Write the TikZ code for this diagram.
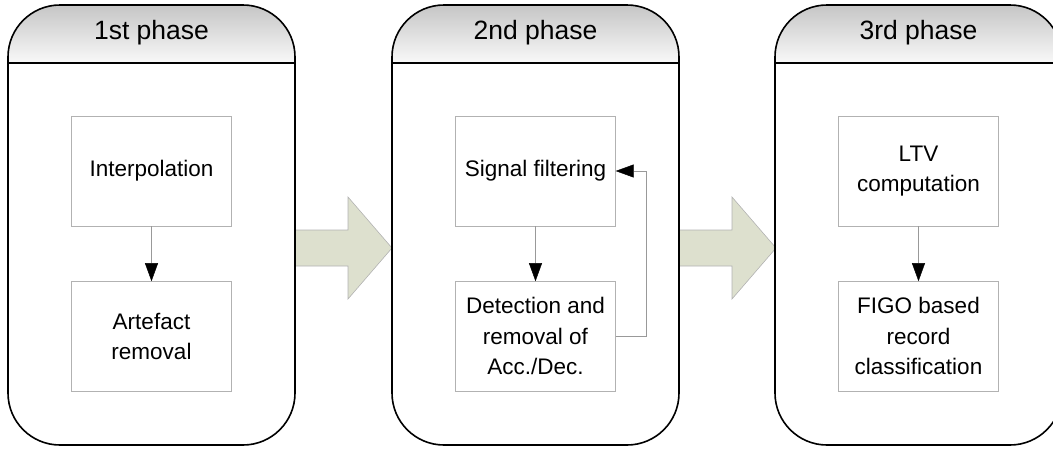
\documentclass[tikz,border=0pt]{standalone}
\usepackage{fontspec}
\setmainfont{Liberation Sans}
\usetikzlibrary{arrows.meta,positioning}
\definecolor{arrowfill}{RGB}{221,224,206}

\begin{document}
\begin{tikzpicture}[x=1pt, y=-1pt,
    every node/.style={font=\fontsize{22.5}{30.5}\selectfont},
    stepbox/.style={draw=gray!60, minimum width=160pt, minimum height=110pt, align=center, inner sep=2pt},
    flow/.style={draw=gray!80, -{Triangle[length=18pt, width=13pt, color=black]}},
    bigarrow/.style={fill=arrowfill, draw=gray!60, line width=0.6pt}]
    \useasboundingbox (0,0) rectangle (1053,448);
    % broad arrows between the phases
    \foreach \x in {295, 679}
        \draw[bigarrow] (\x,230) -- (\x+53,230) -- (\x+53,197) -- (\x+97,248)
            -- (\x+53,299) -- (\x+53,266) -- (\x,266) -- cycle;
    % the three phase panels
    \foreach \l/\name/\title in {8/ph1/1st phase, 392/ph2/2nd phase, 775/ph3/3rd phase} {
        \fill[white, rounded corners=52pt] (\l,200) -- (\l,5) -- (\l+287,5) -- (\l+287,445) -- (\l,445) -- cycle;
        \shade[top color=gray!45, bottom color=gray!5, rounded corners=52pt] (\l,63) -- (\l,5) -- (\l+287,5) -- (\l+287,63);
        \draw[line width=1.6pt, rounded corners=52pt] (\l,200) -- (\l,5) -- (\l+287,5) -- (\l+287,445) -- (\l,445) -- cycle;
        \draw[line width=1.6pt] (\l,63) -- (\l+287,63);
        \node[font=\fontsize{26.5}{30}\selectfont] (\name) at (\l+143.5,33) {\title};
    }
    % 1st phase
    \node[stepbox] (interp) at (151.5,171) {Interpolation};
    \node[stepbox, below=55pt of interp] (artef) {Artefact\\removal};
    \draw[flow] (interp) -- (artef);
    % 2nd phase
    \node[stepbox] (filt) at (535.5,171) {Signal filtering};
    \node[stepbox, below=55pt of filt] (detect) {Detection and\\removal of\\Acc./Dec.};
    \draw[flow] (filt) -- (detect);
    \draw[flow] (detect.east) -- ++(30,0) |- (filt.east); % loop back
    % 3rd phase
    \node[stepbox] (ltv) at (918.5,171) {LTV\\computation};
    \node[stepbox, below=55pt of ltv] (figo) {FIGO based\\record\\classification};
    \draw[flow] (ltv) -- (figo);
\end{tikzpicture}
\end{document}
